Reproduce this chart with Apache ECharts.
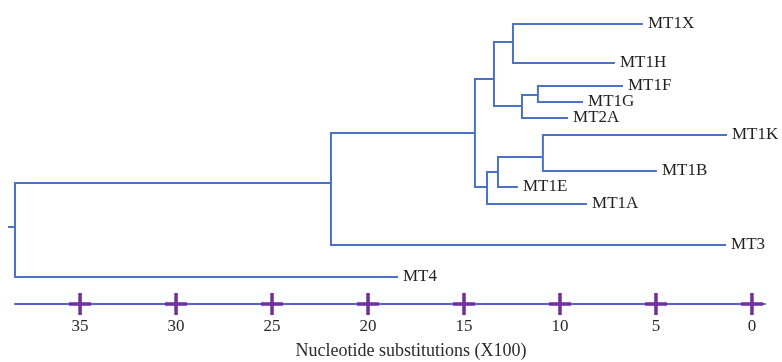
<!DOCTYPE html>
<html>
<head>
<meta charset="utf-8">
<script src="https://cdn.jsdelivr.net/npm/echarts@6/dist/echarts.min.js"></script>
<style>html,body{margin:0;padding:0;background:#fff}#c{width:782px;height:362px}</style>
</head>
<body>
<div id="c"></div>
<script>
// Tree nodes: id, parent id, distance (nucleotide substitutions x100), row (vertical position)
const nodeIds = ['N0','N1','N2','N3','N4','N5','N6','N7','N8','N9',
  'MT1X','MT1H','MT1F','MT1G','MT2A','MT1K','MT1B','MT1E','MT1A','MT3','MT4'];
const nodeParents = [null,'N0','N1','N2','N3','N3','N5','N2','N7','N8',
  'N4','N4','N6','N6','N5','N9','N9','N8','N7','N1','N0'];
const nodeValues = [38.39,21.93,14.43,13.44,12.45,11.98,11.15,13.80,13.23,10.89,
  5.68,7.14,6.72,8.80,9.58,1.30,4.95,12.19,8.59,1.35,18.44];
const nodeRows = [227,183,133,79,42,106,95,187,172,157,
  24,63,86,102,118,135,171,187,204,245,277];
const rootOrigin = 38.75;
const leafNames = ['MT1X','MT1H','MT1F','MT1G','MT2A','MT1K','MT1B','MT1E','MT1A','MT3','MT4'];
const tickValues = [35,30,25,20,15,10,5,0];
const axisRow = 304;
const axisMin = -0.68;
const axisMax = 38.39;

const idx = {};
nodeIds.forEach((id, i) => { idx[id] = i; });
const edges = nodeIds.map((id, i) => {
  const p = nodeParents[i];
  const pv = p === null ? rootOrigin : nodeValues[idx[p]];
  const pr = p === null ? nodeRows[i] : nodeRows[idx[p]];
  return [nodeValues[i], nodeRows[i], pv, pr, leafNames.indexOf(id) >= 0 ? id : ''];
});

const FONT = '"Liberation Serif", "DejaVu Serif", serif';
const chart = echarts.init(document.getElementById('c'), null, {renderer: 'canvas'});
chart.setOption({
  backgroundColor: '#ffffff',
  animation: false,
  grid: {left: 15, right: 17, top: 0, bottom: 362 - axisRow, containLabel: false, outerBoundsMode: 'none'},
  xAxis: {
    type: 'value', inverse: true, min: axisMin, max: axisMax,
    position: 'bottom',
    axisLine: {show: true, onZero: false, lineStyle: {color: '#5561c4', width: 2}},
    axisTick: {show: false},
    splitLine: {show: false},
    axisLabel: {customValues: tickValues, color: '#2a2a2a', fontSize: 17, fontFamily: FONT, margin: 14},
    name: 'Nucleotide substitutions (X100)',
    nameLocation: 'middle', nameGap: 38,
    nameTextStyle: {color: '#2a2a2a', fontSize: 18, fontFamily: FONT, padding: [0, 0, 0, 42]}
  },
  yAxis: {type: 'value', min: 0, max: axisRow, inverse: true, show: false},
  series: [
    {
      type: 'custom',
      clip: false,
      data: edges,
      encode: {x: [0, 2], y: [1, 3]},
      renderItem: function (params, api) {
        const cv = api.value(0), cr = api.value(1), pv = api.value(2), pr = api.value(3);
        const name = api.value(4);
        const p0 = api.coord([pv, pr]);
        const p1 = api.coord([pv, cr]);
        const p2 = api.coord([cv, cr]);
        const children = [{
          type: 'polyline',
          shape: {points: [p0, p1, p2]},
          style: {stroke: '#4a72c6', lineWidth: 2, fill: null}
        }];
        if (name) {
          children.push({
            type: 'text',
            style: {x: p2[0] + 5, y: p2[1], text: name, fill: '#222',
              font: '17px ' + FONT, verticalAlign: 'middle', align: 'left'}
          });
        }
        return {type: 'group', children: children};
      }
    },
    {
      type: 'scatter',
      clip: false,
      data: tickValues.map(v => [v, axisRow]),
      symbol: 'path://M0,42 L100,42 L100,58 L0,58 Z M42,0 L58,0 L58,100 L42,100 Z',
      symbolSize: 22,
      itemStyle: {color: '#7030a0', opacity: 1},
      z: 5
    }
  ]
});
</script>
</body>
</html>
